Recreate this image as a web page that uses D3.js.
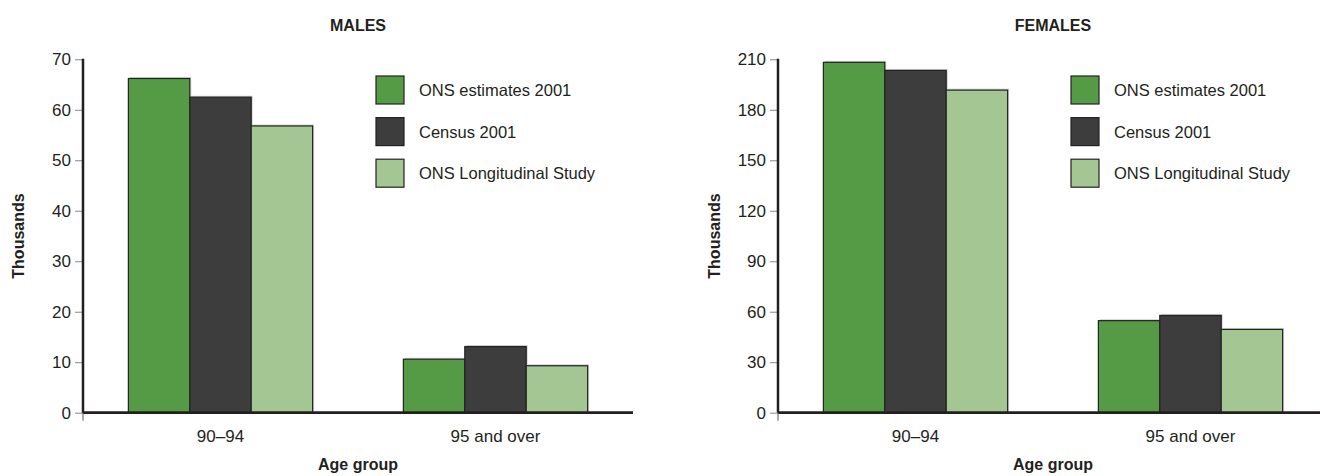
<!DOCTYPE html>
<html>
<head>
<meta charset="utf-8">
<script src="https://cdn.jsdelivr.net/npm/d3@7"></script>
<style>
  html, body { margin: 0; padding: 0; background: #fff; }
  svg text { font-family: "Liberation Sans", Arial, sans-serif; fill: #231f20; }
</style>
</head>
<body>
<svg id="chart" width="1320" height="476"></svg>
<script>
const categories = ["90\u201394", "95 and over"];
const seriesNames = ["ONS estimates 2001", "Census 2001", "ONS Longitudinal Study"];
const seriesColors = ["#559b45", "#3d3d3d", "#a3c692"];
const malesValues = [
  [66.2, 62.5, 56.8],
  [10.6, 13.1, 9.3]
];
const femalesValues = [
  [208.2, 203.4, 191.7],
  [54.7, 57.8, 49.5]
];
const malesTicks = [0, 10, 20, 30, 40, 50, 60, 70];
const femalesTicks = [0, 30, 60, 90, 120, 150, 180, 210];

const svg = d3.select("#chart");

function panel(opts) {
  const g = svg.append("g").attr("transform", `translate(${opts.left},0)`);
  const top = 59.3, bottom = 412.7, width = 550;
  const y = d3.scaleLinear().domain([0, opts.max]).range([bottom, top]);
  const x0 = d3.scaleBand().domain(categories).range([0, width])
    .paddingInner(0.33).paddingOuter(0.165);
  const x1 = d3.scaleBand().domain(seriesNames).range([0, x0.bandwidth()]);

  // title
  g.append("text").attr("x", width / 2).attr("y", 31)
    .attr("text-anchor", "middle").attr("font-size", 16).attr("font-weight", "bold")
    .text(opts.title);

  // bars
  const groups = g.selectAll("g.grp").data(categories).enter().append("g")
    .attr("transform", d => `translate(${x0(d)},0)`);
  groups.each(function (cat, ci) {
    const gg = d3.select(this);
    const vals = opts.values[ci].map((v, si) => ({ name: seriesNames[si], v, si }));
    // subtle shadow
    gg.selectAll("rect.sh").data(vals).enter().append("rect")
      .attr("x", d => x1(d.name) + 1.5).attr("y", d => y(d.v) - 1.5)
      .attr("width", x1.bandwidth()).attr("height", d => bottom - y(d.v))
      .attr("fill", "#d4d4d4");
    gg.selectAll("rect.bar").data(vals).enter().append("rect")
      .attr("x", d => x1(d.name)).attr("y", d => y(d.v))
      .attr("width", x1.bandwidth()).attr("height", d => bottom - y(d.v))
      .attr("fill", d => seriesColors[d.si])
      .attr("stroke", "#222").attr("stroke-width", 1.2);
  });

  // y axis
  const yAxis = d3.axisLeft(y).tickValues(opts.ticks).tickSize(8).tickPadding(4);
  const ya = g.append("g").call(yAxis);
  ya.select(".domain").remove();
  ya.selectAll(".tick line").attr("stroke", "#888").attr("stroke-width", 1);
  ya.selectAll(".tick text").attr("font-size", 17)
    .attr("font-family", '"Liberation Sans", Arial, sans-serif').attr("fill", "#231f20");
  g.append("line").attr("x1", 0).attr("x2", 0).attr("y1", top - 0.5).attr("y2", bottom)
    .attr("stroke", "#231f20").attr("stroke-width", 2.5);

  // x axis
  const xAxis = d3.axisBottom(x0).tickSize(0).tickPadding(17);
  const xa = g.append("g").attr("transform", `translate(0,${bottom})`).call(xAxis);
  xa.select(".domain").remove();
  xa.selectAll(".tick text").attr("font-size", 17)
    .attr("font-family", '"Liberation Sans", Arial, sans-serif').attr("fill", "#231f20");
  g.append("line").attr("x1", 0).attr("x2", width).attr("y1", bottom).attr("y2", bottom)
    .attr("stroke", "#231f20").attr("stroke-width", 2.8);
  g.append("line").attr("x1", 0).attr("x2", 0).attr("y1", bottom).attr("y2", bottom + 8)
    .attr("stroke", "#555").attr("stroke-width", 1);

  // axis titles
  g.append("text").attr("x", width / 2).attr("y", 470)
    .attr("text-anchor", "middle").attr("font-size", 16).attr("font-weight", "bold")
    .text("Age group");
  g.append("text")
    .attr("transform", `translate(${opts.ylabX},${(top + bottom) / 2}) rotate(-90)`)
    .attr("text-anchor", "middle").attr("font-size", 16).attr("font-weight", "bold")
    .text("Thousands");

  // legend
  const lg = g.append("g").attr("transform", "translate(293,76)");
  const items = lg.selectAll("g").data(seriesNames).enter().append("g")
    .attr("transform", (d, i) => `translate(0,${i * 41.6})`);
  items.append("rect").attr("width", 28).attr("height", 28)
    .attr("fill", (d, i) => seriesColors[i]).attr("stroke", "#222").attr("stroke-width", 1.2);
  items.append("text").attr("x", 43).attr("y", 14).attr("dy", "0.36em")
    .attr("font-size", 16.5).text(d => d);
}

panel({ left: 83, title: "MALES", max: 70, ticks: malesTicks, values: malesValues, ylabX: 24 - 83 + 0 });
panel({ left: 778, title: "FEMALES", max: 210, ticks: femalesTicks, values: femalesValues, ylabX: 720 - 778 });
</script>
</body>
</html>
